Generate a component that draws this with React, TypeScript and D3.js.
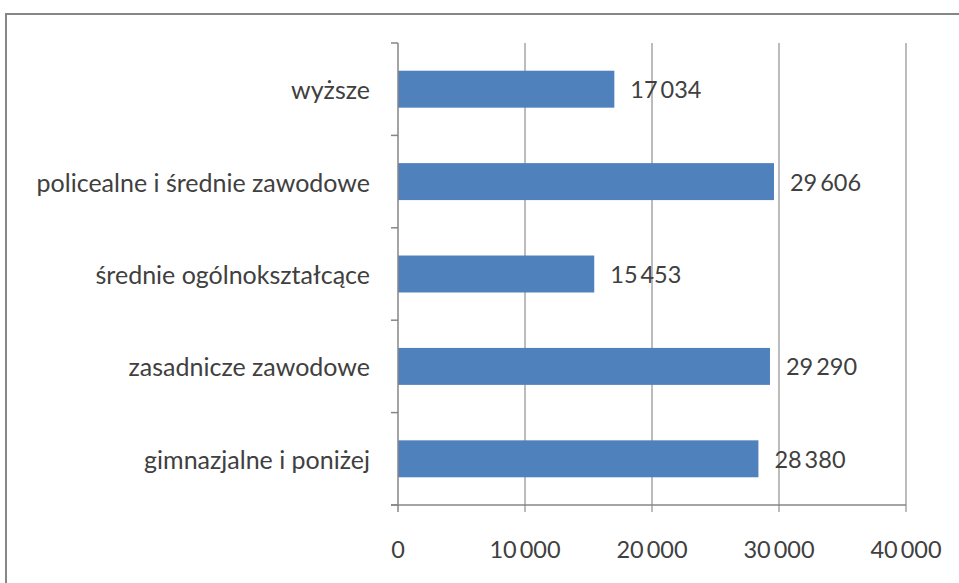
import React from "react";
import * as d3 from "d3";

const categories = [
  "wyższe",
  "policealne i średnie zawodowe",
  "średnie ogólnokształcące",
  "zasadnicze zawodowe",
  "gimnazjalne i poniżej",
];
const values = [17034, 29606, 15453, 29290, 28380];
const xTicks = [0, 10000, 20000, 30000, 40000];

const W = 959;
const H = 583;
const FONT = "Lato, 'Open Sans', sans-serif";
const TEXT = "#404040";
const GRID = "#a6a6a6";
const AXIS = "#868686";
const BAR = "#4f81bd";

const fmt = (v: number) => d3.format(",")(v).replace(/,/g, "\u2009");

export default function App() {
  const left = 398;
  const right = 906;
  const top = 43;
  const bottom = 505;

  const x = d3.scaleLinear().domain([0, 40000]).range([left, right]);
  const y = d3
    .scaleBand<string>()
    .domain(categories)
    .range([top, bottom])
    .paddingInner(0.6)
    .paddingOuter(0.3);

  const step = (bottom - top) / categories.length;
  const catTicks = d3.range(categories.length + 1).map((i) => top + i * step);

  return (
    <svg
      width={W}
      height={H}
      style={{ position: "absolute", left: 0, top: 0, background: "#fff" }}
      fontFamily={FONT}
    >
      <rect x={0} y={0} width={W} height={H} fill="#fff" />
      {/* outer frame */}
      <rect x={6} y={14} width={W + 20} height={H + 20} fill="none" stroke="#868686" strokeWidth={2} />

      {/* vertical gridlines */}
      {xTicks.slice(1).map((t) => (
        <line key={"g" + t} x1={x(t)} x2={x(t)} y1={top} y2={bottom + 7} stroke={GRID} strokeWidth={1.5} />
      ))}

      {/* bars */}
      {categories.map((c, i) => (
        <rect
          key={c}
          x={x(0)}
          y={y(c)}
          width={x(values[i]) - x(0)}
          height={y.bandwidth()}
          fill={BAR}
        />
      ))}

      {/* category axis */}
      <line x1={left} x2={left} y1={top} y2={bottom + 7} stroke={AXIS} strokeWidth={1.5} />
      {catTicks.map((t, i) => (
        <line key={"ct" + i} x1={left - 7} x2={left} y1={t} y2={t} stroke={AXIS} strokeWidth={1.5} />
      ))}
      {/* value axis */}
      <line x1={left - 7} x2={right} y1={bottom} y2={bottom} stroke={AXIS} strokeWidth={1.5} />

      {/* category labels */}
      {categories.map((c) => (
        <text
          key={"l" + c}
          x={370}
          y={(y(c) as number) + y.bandwidth() / 2}
          textAnchor="end"
          dominantBaseline="central"
          fontSize={25}
          fill={TEXT}
        >
          {c}
        </text>
      ))}

      {/* value labels */}
      {categories.map((c, i) => (
        <text
          key={"v" + c}
          x={x(values[i]) + 16}
          y={(y(c) as number) + y.bandwidth() / 2}
          dominantBaseline="central"
          fontSize={23.5}
          fill={TEXT}
        >
          {fmt(values[i])}
        </text>
      ))}

      {/* x tick labels */}
      {xTicks.map((t) => (
        <text
          key={"xt" + t}
          x={x(t)}
          y={549}
          textAnchor="middle"
          dominantBaseline="central"
          fontSize={23.5}
          fill={TEXT}
        >
          {fmt(t)}
        </text>
      ))}
    </svg>
  );
}
